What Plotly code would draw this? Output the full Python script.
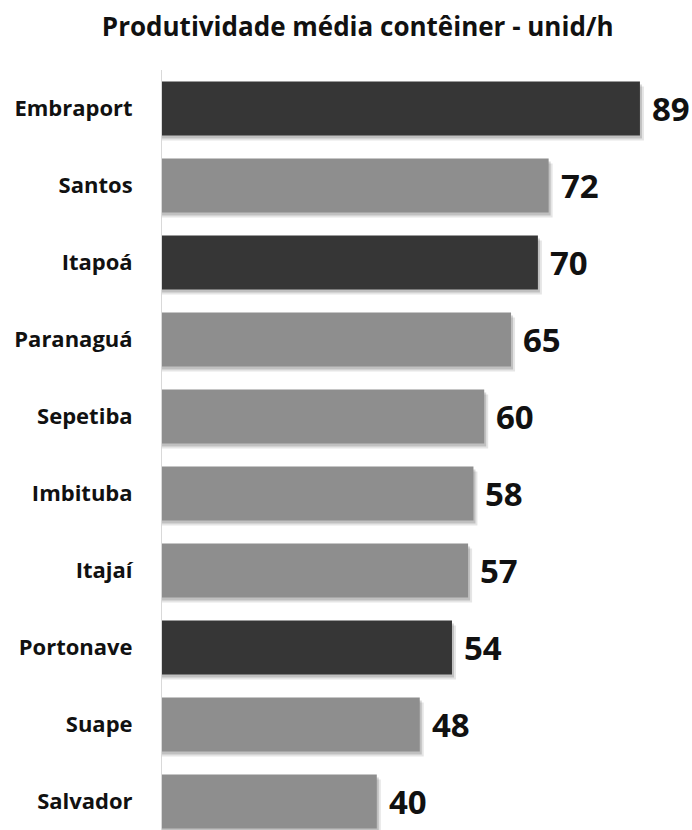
import plotly.graph_objects as go

categories = ["Embraport", "Santos", "Itapoá", "Paranaguá", "Sepetiba",
              "Imbituba", "Itajaí", "Portonave", "Suape", "Salvador"]
values = [89, 72, 70, 65, 60, 58, 57, 54, 48, 40]
highlight = ["Embraport", "Itapoá", "Portonave"]

DARK = "#363636"
LIGHT = "#8e8e8e"
colors = [DARK if c in highlight else LIGHT for c in categories]

FONT = "Open Sans"
BAR_W = 0.70
PX_PER_CAT = 77.0
PX_PER_UNIT = 5.37

fig = go.Figure()

# soft drop shadows (two layers)
for dx_px, dy_px, alpha in [(4, 5, 0.10), (2, 3, 0.16)]:
    fig.add_trace(go.Bar(
        y=categories, x=[v + dx_px / PX_PER_UNIT for v in values],
        orientation="h", width=BAR_W,
        offset=-BAR_W / 2 + dy_px / PX_PER_CAT,
        marker=dict(color=f"rgba(0,0,0,{alpha})", line=dict(width=0)),
        hoverinfo="skip", showlegend=False,
    ))

fig.add_trace(go.Bar(
    y=categories, x=values, orientation="h", width=BAR_W,
    marker=dict(color=colors, line=dict(width=0)),
    showlegend=False,
))

for c, v in zip(categories, values):
    fig.add_annotation(
        x=v, y=c, text=f"<b>{v}</b>", showarrow=False,
        xanchor="left", yanchor="middle", xshift=10, yshift=0,
        font=dict(family=FONT, size=33, color="#111111"),
    )

fig.update_layout(
    width=692, height=830,
    margin=dict(l=162, r=10, t=70, b=0, pad=0),
    paper_bgcolor="white", plot_bgcolor="white",
    barmode="overlay", bargap=0.3,
    title=dict(
        text="<b>Produtividade média contêiner - unid/h</b>",
        x=0.517, xanchor="center", xref="container",
        y=1 - 27 / 830, yanchor="middle", yref="container",
        font=dict(family=FONT, size=26, color="#111111"),
    ),
    xaxis=dict(range=[0, 520 / PX_PER_UNIT], visible=False, fixedrange=True),
    yaxis=dict(
        type="category", categoryorder="array", categoryarray=categories,
        range=[9.37, -0.5],
        showline=True, linecolor="#d9d9d9", linewidth=1,
        showgrid=False, zeroline=False, ticks="",
        ticklabelstandoff=24,
        tickfont=dict(family=FONT, size=22, color="#111111"),
        tickvals=categories,
        ticktext=[f"<b>{c}</b>" for c in categories],
    ),
    font=dict(family=FONT),
)

fig.write_html("out.html")
